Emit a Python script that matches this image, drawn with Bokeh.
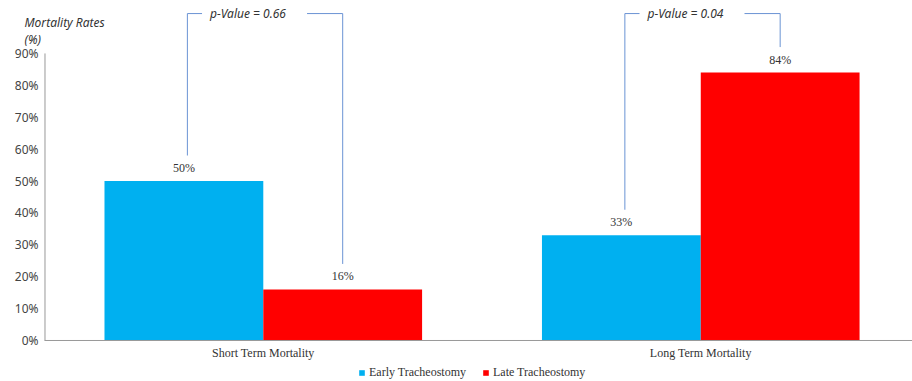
from bokeh.plotting import figure
from bokeh.models import Range1d, Legend, LegendItem, ColumnDataSource
from bokeh.core.properties import value
from bokeh.embed import file_html
from bokeh.resources import INLINE

categories = ["Short Term Mortality", "Long Term Mortality"]
early = [50, 33]
late = [16, 84]
p_values = ["p-Value = 0.66", "p-Value = 0.04"]
y_ticks = [0, 10, 20, 30, 40, 50, 60, 70, 80, 90]
y_tick_labels = [f"{t}%" for t in y_ticks]
axis_title = ["Mortality Rates", "(%)"]
series_names = ["Early Tracheostomy", "Late Tracheostomy"]

BLUE = "#00B0F0"
RED = "#FF0000"
BRACKET = "#6A93D4"
TXT = "#333333"

centers = [0.5 + i for i in range(len(categories))]
dodge = 0.1815
bw = 0.363

# frame covers whole canvas; data x=0 sits at 44 px, y=0 at 340 px
p = figure(width=912, height=381, output_backend="svg", toolbar_location=None,
           x_range=Range1d(-0.1007, 1.984), y_range=Range1d(-12.86, 106.6),
           min_border_left=0, min_border_right=0, min_border_top=0, min_border_bottom=0)
p.outline_line_color = None
p.grid.visible = False
p.axis.visible = False
p.background_fill_color = "white"

src_e = ColumnDataSource(dict(x=[c - dodge for c in centers], top=early,
                              lab=[f"{v}%" for v in early]))
src_l = ColumnDataSource(dict(x=[c + dodge for c in centers], top=late,
                              lab=[f"{v}%" for v in late]))
r_e = p.vbar(x="x", top="top", width=bw, source=src_e, fill_color=BLUE, line_color=None)
r_l = p.vbar(x="x", top="top", width=bw, source=src_l, fill_color=RED, line_color=None)

for s in (src_e, src_l):
    p.text(x="x", y="top", text="lab", source=s, text_align="center", text_baseline="bottom",
           y_offset=-6, text_font=value("Liberation Serif"), text_font_size="12px",
           text_color=TXT)

# axis lines
p.line(x=[0.001, 0.001], y=[0, 90], line_color="#999999", line_width=1)
p.line(x=[0, 1.984], y=[0, 0], line_color="#999999", line_width=1)

# y tick labels
tick_src = ColumnDataSource(dict(x=[0] * len(y_ticks), y=y_ticks, t=y_tick_labels))
p.text(x="x", y="y", text="t", source=tick_src, text_align="right", text_baseline="middle",
       x_offset=-6, text_font=value("Noto Sans"), text_font_size="12px", text_color="#444444")

# category labels
cat_src = ColumnDataSource(dict(x=centers, y=[0] * len(centers), t=categories))
p.text(x="x", y="y", text="t", source=cat_src, text_align="center", text_baseline="middle",
       y_offset=13, text_font=value("Liberation Serif"), text_font_size="12px",
       text_color=TXT)

# axis title (two lines) above the y axis
title_src = ColumnDataSource(dict(x=[-0.0458, -0.0458], y=[99.6, 94.4], t=axis_title))
p.text(x="x", y="y", text="t", source=title_src, text_align="left", text_baseline="middle",
       text_font=value("Noto Sans"), text_font_style="italic", text_font_size="12px",
       text_color=TXT)

# p-value brackets
top_y = 102.5
pv_x, pv_y = [], []
for i, c in enumerate(centers):
    xl = c - dodge + 0.008
    xr = c + dodge
    yl = early[i] + 8
    yr = late[i] + 8
    p.line(x=[xl, xl, c - 0.14], y=[yl, top_y, top_y], line_color=BRACKET, line_width=1)
    p.line(x=[c + 0.10, xr, xr], y=[top_y, top_y, yr], line_color=BRACKET, line_width=1)
    pv_x.append(c - 0.035)
    pv_y.append(top_y)
pv_src = ColumnDataSource(dict(x=pv_x, y=pv_y, t=p_values))
p.text(x="x", y="y", text="t", source=pv_src, text_align="center", text_baseline="middle",
       text_font=value("Noto Sans"), text_font_style="italic", text_font_size="12px",
       text_color=TXT)

legend = Legend(items=[LegendItem(label=series_names[0], renderers=[r_e]),
                       LegendItem(label=series_names[1], renderers=[r_l])],
                orientation="horizontal", location=(358, 1),
                background_fill_alpha=0, border_line_color=None,
                label_text_font="Liberation Serif", label_text_font_size="12px",
                label_text_color=TXT, glyph_width=7, glyph_height=7,
                label_standoff=4, spacing=16, padding=0, margin=0,
                label_height=12)
p.add_layout(legend, "center")

open("out.html", "w").write(file_html(p, INLINE))
